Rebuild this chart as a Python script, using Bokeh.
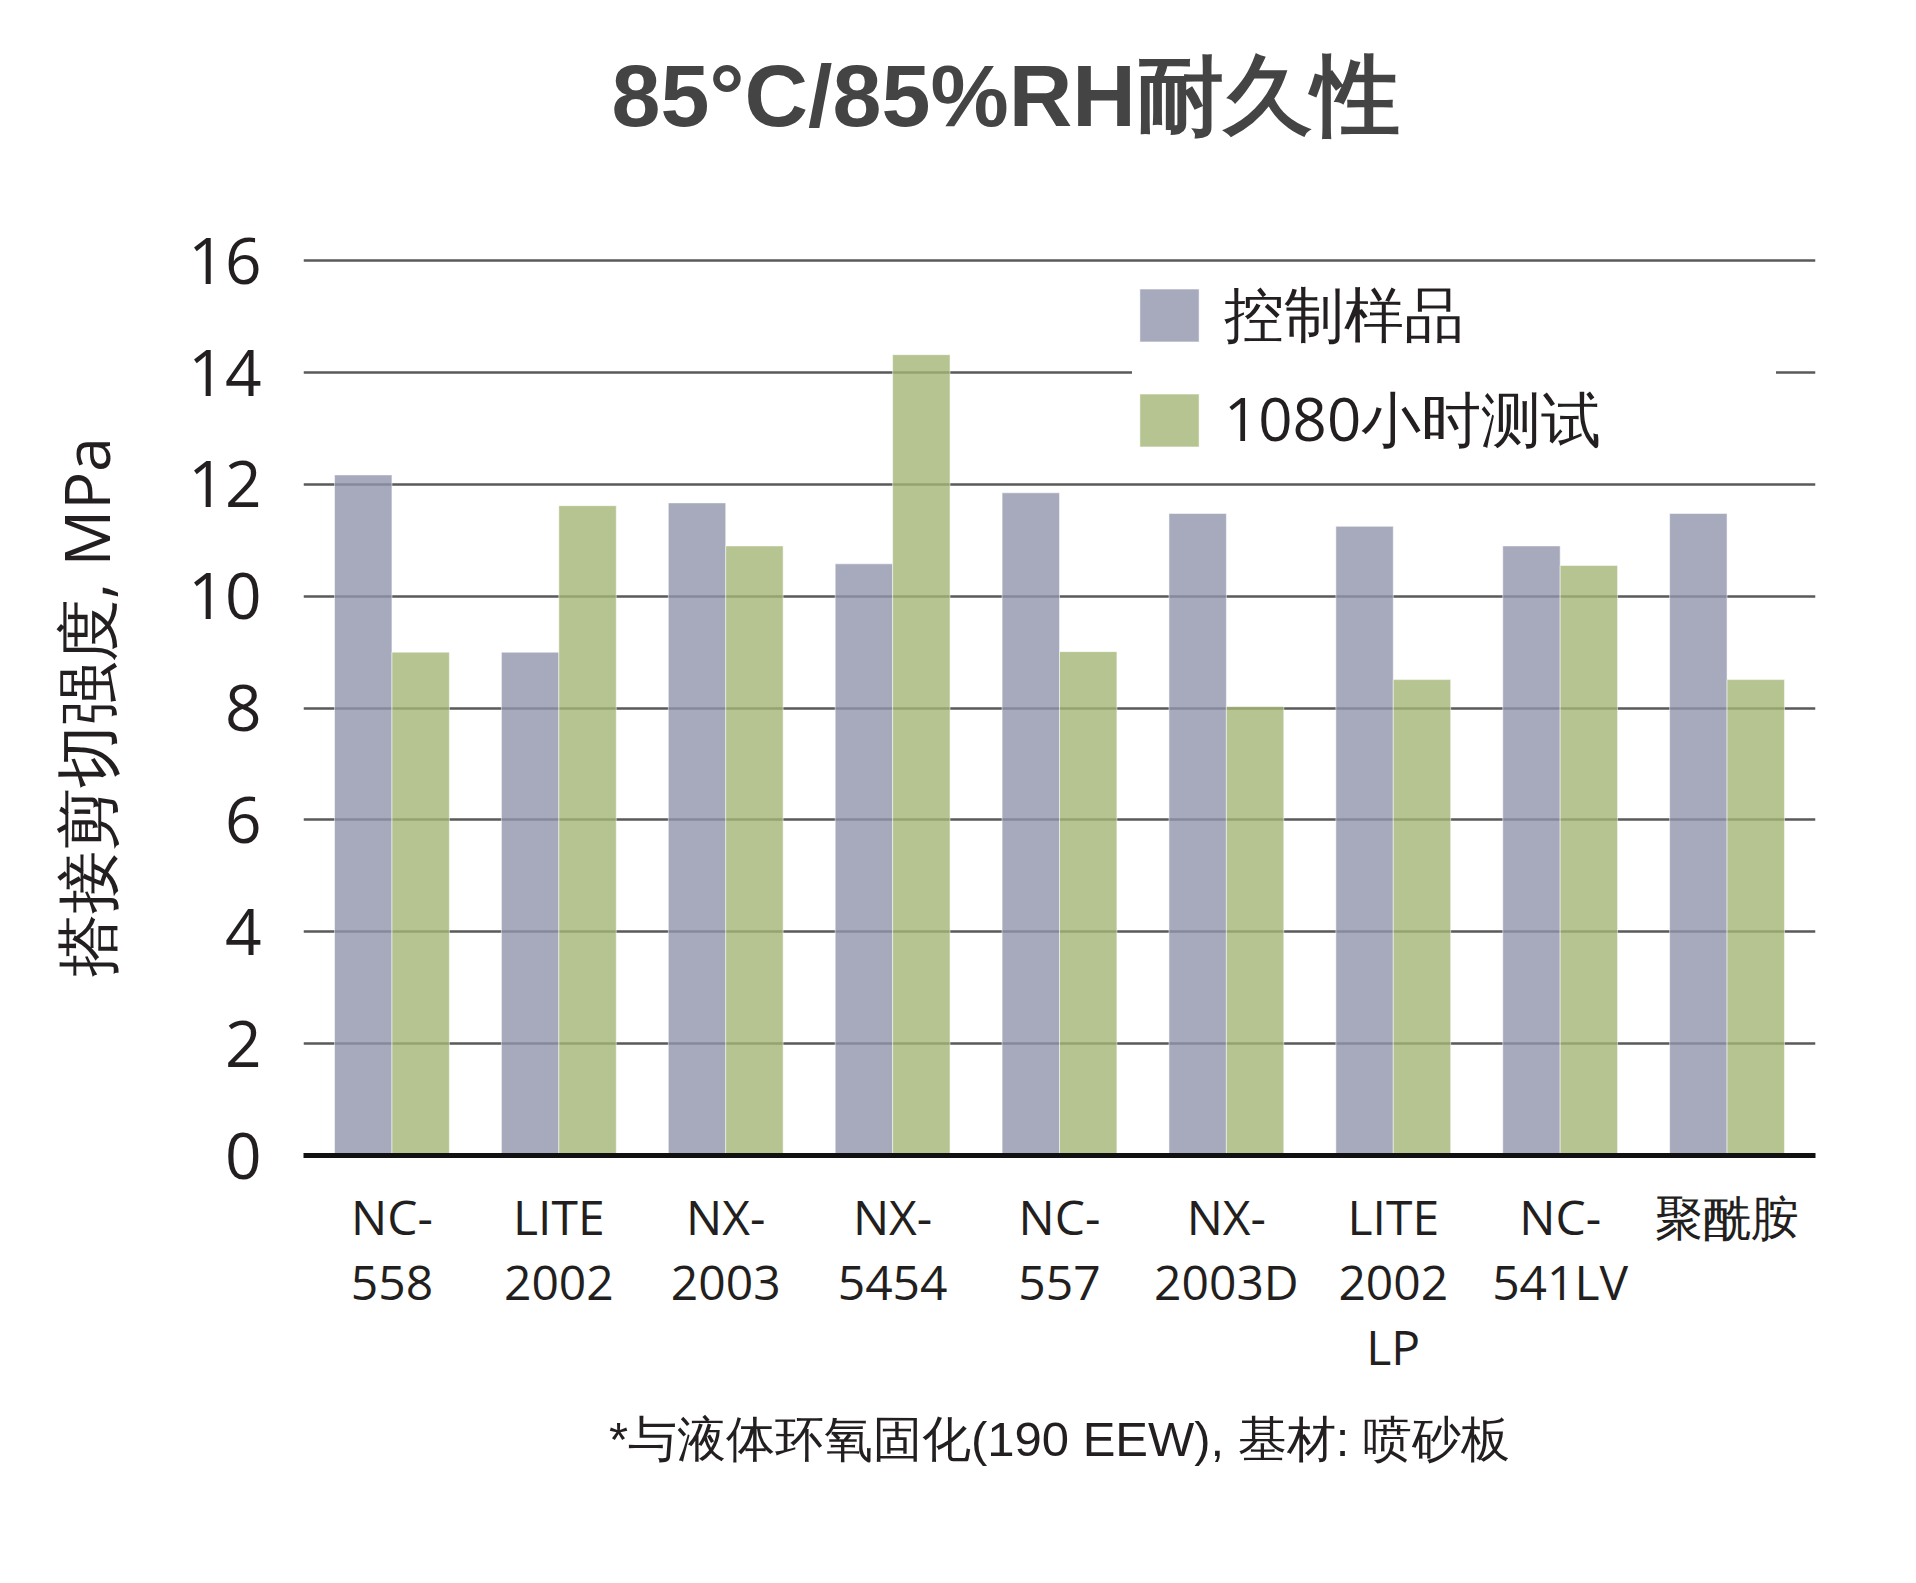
from bokeh.plotting import figure
from bokeh.layouts import column
from bokeh.models import (Range1d, FixedTicker, Legend, LegendItem, Label,
                          ColumnDataSource)
from bokeh.transform import dodge
from bokeh.embed import file_html
from bokeh.resources import INLINE

# ---------------- data ----------------
title_text = "85°C/85%RH耐久性"
y_title = "搭接剪切强度, MPa"
footnote = "*与液体环氧固化(190 EEW), 基材: 喷砂板"
categories = ["NC-\n558", "LITE\n2002", "NX-\n2003", "NX-\n5454", "NC-\n557",
              "NX-\n2003D", "LITE\n2002\nLP", "NC-\n541LV", "聚酰胺"]
series_names = ["控制样品", "1080小时测试"]
control = [12.17, 9.0, 11.67, 10.58, 11.85, 11.48, 11.25, 10.9, 11.48]
test_1080h = [9.0, 11.62, 10.9, 14.32, 9.01, 8.03, 8.51, 10.55, 8.51]
y_ticks = [0, 2, 4, 6, 8, 10, 12, 14, 16]

# ---------------- layout constants (page px) ----------------
PAGE_W = 1895
TOP_H = 200
FRAME_L, FRAME_R = 303, 1815
FRAME_B = 1155
PX_PER_Y = 55.94
X0, X1 = -0.53, len(categories) - 1 + 0.53
Y_END = 16.04
FRAME_W = FRAME_R - FRAME_L
FRAME_H = int(round(Y_END * PX_PER_Y))
FRAME_T = FRAME_B - FRAME_H

# ---------------- title strip ----------------
top = figure(width=PAGE_W, height=TOP_H, x_range=Range1d(0, PAGE_W),
             y_range=Range1d(0, TOP_H), x_axis_type=None, y_axis_type=None,
             min_border=0, output_backend="svg", toolbar_location=None)
top.outline_line_color = None
top.grid.visible = False
top.add_layout(Label(x=880, y=TOP_H - 95, text=title_text,
                     text_font="Liberation Sans", text_font_style="bold",
                     text_font_size="88px", text_color="#444444",
                     text_align="center", text_baseline="middle"))

# ---------------- main chart ----------------
pos = list(range(len(categories)))
src = ColumnDataSource(dict(pos=pos, control=control, test=test_1080h))

p = figure(frame_width=FRAME_W, frame_height=FRAME_H,
           x_range=Range1d(X0, X1), y_range=Range1d(0, Y_END),
           output_backend="svg", toolbar_location=None,
           min_border_left=FRAME_L, min_border_top=FRAME_T - TOP_H,
           min_border_bottom=380, min_border_right=PAGE_W - FRAME_R,
           background_fill_color="white", border_fill_color="white")
p.outline_line_color = None

bar_w = 0.344
c_ctrl = "#9195AC"
c_test = "#A4B575"
r1 = p.vbar(x=dodge("pos", -bar_w / 2), top="control", width=bar_w, bottom=0,
            source=src, fill_color=c_ctrl, fill_alpha=0.8,
            line_color="white", line_alpha=0.5, line_width=1)
r2 = p.vbar(x=dodge("pos", bar_w / 2), top="test", width=bar_w, bottom=0,
            source=src, fill_color=c_test, fill_alpha=0.8,
            line_color="white", line_alpha=0.5, line_width=1)

# grid
p.xgrid.visible = False
p.ygrid.ticker = FixedTicker(ticks=y_ticks)
p.ygrid.grid_line_color = "#5a5a5a"
p.ygrid.grid_line_width = 2.5

# y axis
p.yaxis.ticker = FixedTicker(ticks=y_ticks)
p.yaxis.axis_line_color = None
p.yaxis.major_tick_line_color = None
p.yaxis.minor_tick_line_color = None
p.yaxis.major_label_text_font = "Open Sans"
p.yaxis.major_label_text_font_size = "64px"
p.yaxis.major_label_text_color = "#231f20"
p.yaxis.major_label_standoff = 36
p.yaxis.axis_label = y_title
p.yaxis.axis_label_text_font = "Open Sans"
p.yaxis.axis_label_text_font_size = "63px"
p.yaxis.axis_label_text_font_style = "normal"
p.yaxis.axis_label_text_color = "#231f20"
p.yaxis.axis_label_standoff = 57

# x axis
p.xaxis.ticker = FixedTicker(ticks=pos)
p.xaxis.major_label_overrides = {i: c for i, c in enumerate(categories)}
p.xaxis.axis_line_color = "#111111"
p.xaxis.axis_line_width = 5
p.xaxis.major_tick_line_color = None
p.xaxis.minor_tick_line_color = None
p.xaxis.major_label_text_font = "Open Sans"
p.xaxis.major_label_text_font_size = "48px"
p.xaxis.major_label_text_color = "#231f20"
p.xaxis.major_label_text_line_height = 1.0
p.xaxis.major_label_standoff = 22
p.xaxis.axis_label = footnote
p.xaxis.axis_label_text_font = "Liberation Sans"
p.xaxis.axis_label_text_font_size = "49px"
p.xaxis.axis_label_text_font_style = "normal"
p.xaxis.axis_label_text_color = "#231f20"
p.xaxis.axis_label_standoff = 30

# legend
legend = Legend(items=[LegendItem(label=series_names[0], renderers=[r1]),
                       LegendItem(label=series_names[1], renderers=[r2])],
                location=(829, FRAME_B - 472 + 10),
                glyph_width=74, glyph_height=66, label_standoff=18,
                label_width=552, label_height=60, spacing=20, padding=10,
                label_text_font="Open Sans", label_text_font_size="60px",
                label_text_color="#231f20", border_line_color=None,
                background_fill_color="white", background_fill_alpha=1.0,
                margin=0)
p.add_layout(legend, "center")

layout = column(top, p)
open("out.html", "w").write(file_html(layout, INLINE))
